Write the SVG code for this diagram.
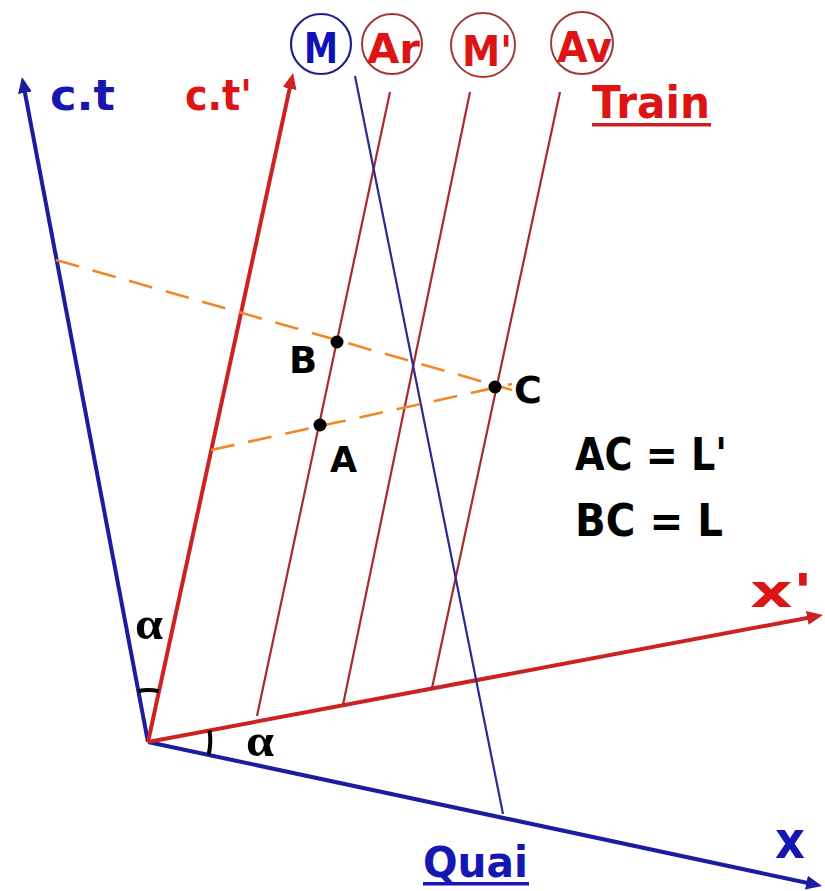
<svg xmlns="http://www.w3.org/2000/svg" width="825" height="891" viewBox="0 0 825 891">
<defs>
<style>
.lbl{font-family:"DejaVu Sans","Liberation Sans",sans-serif;font-weight:bold}
.blue{fill:#1616b0}
.red{fill:#dd1414}
.blk{fill:#000}
.axB{stroke:#1c1ca0;stroke-width:4;fill:none}
.axR{stroke:#cc2222;stroke-width:4;fill:none}
.wl{stroke:#a82a2a;stroke-width:2.2;fill:none}
.wlB{stroke:#2a2a90;stroke-width:2.2;fill:none}
.dash{stroke:#f08828;stroke-width:2.6;stroke-dasharray:24 14;fill:none}
.circR{fill:none;stroke:#a03838;stroke-width:2}
.circB{fill:none;stroke:#20208a;stroke-width:2.2}
.greek{font-family:"Liberation Serif","DejaVu Serif",serif;font-weight:bold}
</style>
<marker id="arB" markerUnits="userSpaceOnUse" markerWidth="18" markerHeight="14" viewBox="0 0 18 14" refX="4" refY="7" orient="auto">
<path d="M0,0 L16,7 L0,14 z" fill="#1c1ca0"/>
</marker>
<marker id="arR" markerUnits="userSpaceOnUse" markerWidth="18" markerHeight="14" viewBox="0 0 18 14" refX="4" refY="7" orient="auto">
<path d="M0,0 L16,7 L0,14 z" fill="#cc2222"/>
</marker>
</defs>
<rect width="825" height="891" fill="#fff"/>
<g id="connectors">
<line id="axis-ct" class="axB" x1="148" y1="742" x2="24.2" y2="88.8" marker-end="url(#arB)"/>
<line id="axis-x" class="axB" x1="148" y1="742" x2="810.3" y2="883.5" marker-end="url(#arB)"/>
<line id="axis-ctp" class="axR" x1="148" y1="742" x2="290.5" y2="84.7" marker-end="url(#arR)"/>
<line id="axis-xp" class="axR" x1="148" y1="742" x2="811.2" y2="617.2" marker-end="url(#arR)"/>
<line id="wl-Ar" class="wl" x1="257" y1="716" x2="390" y2="92"/>
<line id="wl-Mp" class="wl" x1="343" y1="705" x2="470" y2="92"/>
<line id="wl-Av" class="wl" x1="432" y1="688" x2="560" y2="92"/>
<line id="wl-M" class="wlB" x1="355" y1="76" x2="503" y2="814"/>
<line id="dash-BC" class="dash" x1="56" y1="260" x2="512" y2="390"/>
<line id="dash-AC" class="dash" x1="211" y1="450" x2="512" y2="384"/>
<path id="angle1" d="M138.3,691 A52,52 0 0 1 159,691.2" fill="none" stroke="#000" stroke-width="4"/>
<path id="angle2" d="M209.5,730.5 A62,62 0 0 1 208.6,754.8" fill="none" stroke="#000" stroke-width="4"/>
</g>
<g id="node-ct"><text class="lbl blue" x="50" y="110" font-size="42" textLength="65" lengthAdjust="spacingAndGlyphs">c.t</text></g>
<g id="node-ctp"><text class="lbl red" x="185" y="110" font-size="42" textLength="67" lengthAdjust="spacingAndGlyphs">c.t'</text></g>
<g id="node-M"><circle class="circB" cx="321" cy="44" r="30"/><text class="lbl" fill="#1010b8" x="304" y="63" font-size="42" textLength="34" lengthAdjust="spacingAndGlyphs">M</text></g>
<g id="node-Ar"><circle class="circR" cx="392" cy="44" r="30"/><text class="lbl red" x="367" y="63" font-size="40" textLength="53" lengthAdjust="spacingAndGlyphs">Ar</text></g>
<g id="node-Mp"><circle class="circR" cx="483" cy="45" r="32"/><text class="lbl red" x="462" y="66" font-size="42" textLength="50" lengthAdjust="spacingAndGlyphs">M'</text></g>
<g id="node-Av"><circle class="circR" cx="582" cy="43" r="31"/><text class="lbl red" x="557" y="62" font-size="42" textLength="55" lengthAdjust="spacingAndGlyphs">Av</text></g>
<g id="node-Train"><text class="lbl red" x="592" y="118" font-size="44" textLength="118" lengthAdjust="spacingAndGlyphs">Train</text><rect x="592" y="123" width="119" height="3.5" fill="#cc2020"/></g>
<g id="node-Quai"><text class="lbl blue" x="423" y="877" font-size="42" textLength="105" lengthAdjust="spacingAndGlyphs">Quai</text><rect x="423" y="882" width="106" height="3.5" fill="#1616b0"/></g>
<g id="node-x"><text class="lbl blue" x="775" y="858" font-size="52" textLength="30" lengthAdjust="spacingAndGlyphs">x</text></g>
<g id="node-xp"><text class="lbl red" x="750" y="607" font-size="46" textLength="63" lengthAdjust="spacingAndGlyphs">x'</text></g>
<g id="node-alpha1"><text class="greek" x="135" y="639" font-size="46" textLength="28" lengthAdjust="spacingAndGlyphs" fill="#000">α</text></g>
<g id="node-alpha2"><text class="greek" x="246" y="756" font-size="46" textLength="28" lengthAdjust="spacingAndGlyphs" fill="#000">α</text></g>
<g id="node-A"><circle cx="320" cy="425" r="6.5" fill="#000"/><text class="lbl blk" x="330" y="472" font-size="35">A</text></g>
<g id="node-B"><circle cx="337" cy="342" r="6.5" fill="#000"/><text class="lbl blk" x="289" y="373" font-size="37">B</text></g>
<g id="node-C"><circle cx="495" cy="387" r="6.5" fill="#000"/><text class="lbl blk" x="514" y="403" font-size="38">C</text></g>
<g id="node-eq1"><text class="lbl blk" x="575" y="470" font-size="44" textLength="152" lengthAdjust="spacingAndGlyphs">AC = L'</text></g>
<g id="node-eq2"><text class="lbl blk" x="575" y="536" font-size="44" textLength="148" lengthAdjust="spacingAndGlyphs">BC = L</text></g>
</svg>
